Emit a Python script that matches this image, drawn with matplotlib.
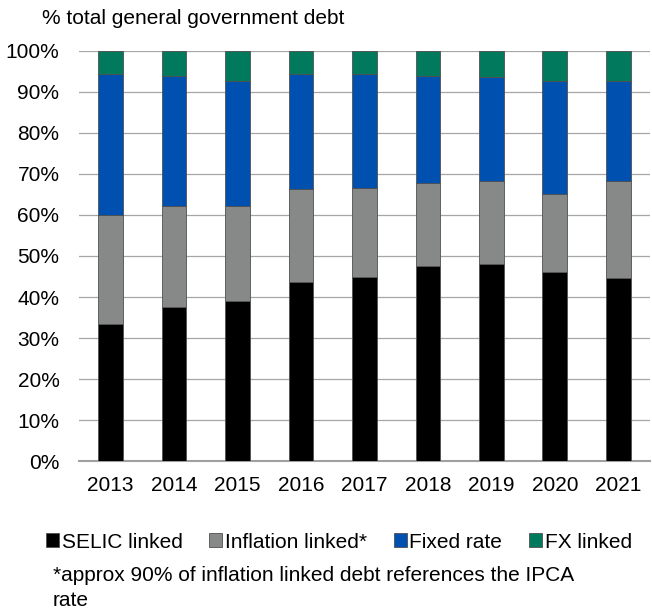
import matplotlib
matplotlib.use("Agg")
import matplotlib.pyplot as plt
import numpy as np

years = ["2013", "2014", "2015", "2016", "2017", "2018", "2019", "2020", "2021"]
selic = [33.3, 37.6, 39.1, 43.7, 44.8, 47.5, 48.0, 46.0, 44.7]
inflation = [26.7, 24.6, 23.1, 22.7, 21.8, 20.2, 20.2, 19.2, 23.6]
fixed = [34.5, 31.8, 30.6, 27.9, 27.9, 26.2, 25.4, 27.6, 24.5]
fx = [5.5, 6.0, 7.2, 5.7, 5.5, 6.1, 6.4, 7.2, 7.2]
series_names = ["SELIC linked", "Inflation linked*", "Fixed rate", "FX linked"]
colors = ["#000000", "#878989", "#0050B0", "#00795C"]

plt.rcParams['font.family'] = ['Liberation Sans', 'DejaVu Sans']
FS = 15

fig = plt.figure(figsize=(6.52, 6.12), dpi=100)
ax = fig.add_axes([0.121, 0.2467, 0.876, 0.67])

x = np.arange(len(years))
bottom = np.zeros(len(years))
handles = []
for vals, c, name in zip([selic, inflation, fixed, fx], colors, series_names):
    b = ax.bar(x, vals, width=0.39, bottom=bottom, color=c, edgecolor="#505050",
               linewidth=0.6, label=name, zorder=3)
    handles.append(b)
    bottom += np.array(vals)

ax.set_xlim(-0.5, len(years) - 0.5)
ax.set_ylim(0, 100)
ax.set_yticks(np.arange(0, 101, 10))
ax.set_yticklabels([f"{v}%" for v in range(0, 101, 10)], fontsize=FS)
ax.set_xticks(x)
ax.set_xticklabels(years, fontsize=FS)
ax.tick_params(axis='both', length=0)
ax.tick_params(axis='x', pad=11)
ax.tick_params(axis='y', pad=14)
ax.grid(axis='y', color="#a6a6a6", linewidth=0.9, zorder=0)
for s in ["top", "right", "left"]:
    ax.spines[s].set_visible(False)
ax.spines["bottom"].set_color("#a0a0a0")
ax.spines["bottom"].set_linewidth(1.5)

fig.text(42 / 652, 1 - 18 / 612, "% total general government debt", fontsize=FS, va="center", ha="left")

fig.legend(handles=handles, labels=series_names, loc="center", bbox_to_anchor=(339 / 652, 1 - 542 / 612),
           ncol=4, frameon=False, fontsize=FS, handlelength=0.62, handleheight=0.62,
           handletextpad=0.12, columnspacing=1.3, borderpad=0, borderaxespad=0)

fig.text(53 / 652, 1 - 588 / 612, "*approx 90% of inflation linked debt references the IPCA\nrate",
         fontsize=FS, va="center", ha="left", linespacing=1.45)

fig.savefig("out.png", dpi=100)
